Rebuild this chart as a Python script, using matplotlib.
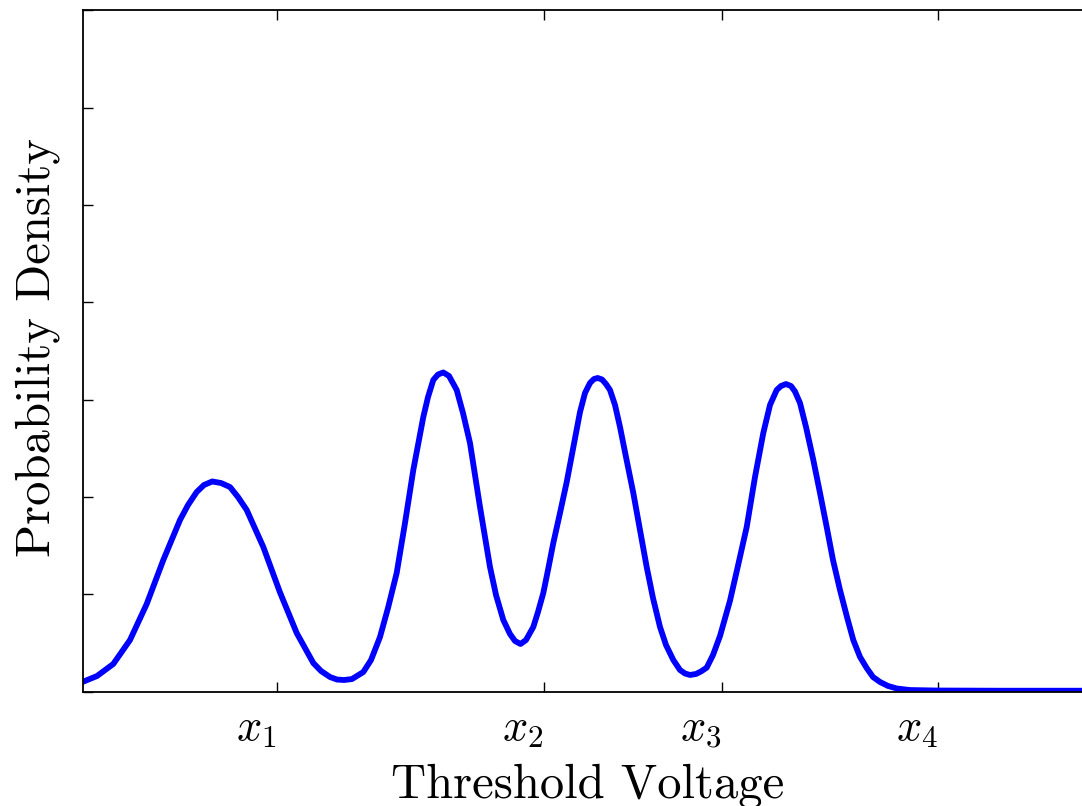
import matplotlib
matplotlib.use('Agg')
import matplotlib.pyplot as plt

# Curve (x in arbitrary voltage units 0..10, y density)
voltage = [0.000, 0.145, 0.308, 0.475, 0.642, 0.808, 0.975, 1.055, 1.142,
           1.215, 1.298, 1.385, 1.475, 1.555, 1.642, 1.808, 1.975, 2.142,
           2.308, 2.385, 2.475, 2.545, 2.615, 2.695, 2.808, 2.885, 2.975,
           3.055, 3.142, 3.225, 3.308, 3.408, 3.455, 3.508, 3.555, 3.608,
           3.665, 3.742, 3.805, 3.875, 3.925, 3.975, 4.025, 4.075, 4.135,
           4.208, 4.275, 4.325, 4.380, 4.435, 4.508, 4.555, 4.608, 4.655,
           4.708, 4.775, 4.842, 4.905, 4.975, 5.025, 5.075, 5.115, 5.152,
           5.195, 5.235, 5.275, 5.325, 5.375, 5.435, 5.508, 5.575, 5.642,
           5.705, 5.775, 5.835, 5.908, 5.975, 6.025, 6.075, 6.135, 6.185,
           6.242, 6.305, 6.375, 6.475, 6.555, 6.642, 6.725, 6.808, 6.875,
           6.942, 6.985, 7.035, 7.085, 7.125, 7.175, 7.235, 7.308, 7.375,
           7.442, 7.505, 7.575, 7.645, 7.708, 7.775, 7.842, 7.905, 7.975,
           8.055, 8.142, 8.275, 8.545, 9.175, 10.000]
density = [0.0100, 0.0161, 0.0285, 0.0531, 0.0901, 0.1353, 0.1764, 0.1918,
           0.2052, 0.2124, 0.2160, 0.2144, 0.2103, 0.2000, 0.1867, 0.1487,
           0.1020, 0.0603, 0.0295, 0.0213, 0.0151, 0.0125, 0.0120, 0.0130,
           0.0202, 0.0325, 0.0562, 0.0860, 0.1220, 0.1733, 0.2278, 0.2822,
           0.3027, 0.3203, 0.3259, 0.3280, 0.3244, 0.3100, 0.2863, 0.2555,
           0.2226, 0.1898, 0.1589, 0.1281, 0.0994, 0.0737, 0.0593, 0.0521,
           0.0490, 0.0531, 0.0665, 0.0819, 0.1014, 0.1250, 0.1528, 0.1836,
           0.2154, 0.2494, 0.2873, 0.3069, 0.3172, 0.3213, 0.3223, 0.3208,
           0.3161, 0.3100, 0.2946, 0.2720, 0.2411, 0.2042, 0.1661, 0.1281,
           0.0962, 0.0665, 0.0480, 0.0326, 0.0223, 0.0187, 0.0172, 0.0182,
           0.0208, 0.0247, 0.0377, 0.0572, 0.0935, 0.1295, 0.1692, 0.2206,
           0.2658, 0.2946, 0.3100, 0.3141, 0.3161, 0.3141, 0.3084, 0.2966,
           0.2720, 0.2381, 0.2042, 0.1692, 0.1353, 0.1045, 0.0767, 0.0531,
           0.0357, 0.0243, 0.0151, 0.0100, 0.0059, 0.0033, 0.0017, 0.0012,
           0.0010, 0.0010]

thresholds = [1.94, 4.61, 6.39, 8.55]
threshold_labels = ['$x_1$', '$x_2$', '$x_3$', '$x_4$']
y_ticks = [0.0, 0.1, 0.2, 0.3, 0.4, 0.5, 0.6, 0.7]

plt.rcParams['font.family'] = 'serif'
plt.rcParams['font.serif'] = ['cmr10']
plt.rcParams['mathtext.fontset'] = 'cm'
plt.rcParams['axes.unicode_minus'] = False

fig = plt.figure(figsize=(10.82, 8.06), dpi=100)
ax = fig.add_axes([82.5 / 1082, 1 - 691.7 / 806, 1000 / 1082, 681.3 / 806])

ax.plot(voltage, density, color='#0000ff', lw=4.2)
ax.set_xlim(0, 10)
ax.set_ylim(0, 0.7)

ax.set_xticks(thresholds)
ax.set_xticklabels(threshold_labels, fontsize=32, ha='right')
ax.set_yticks(y_ticks)
ax.set_yticklabels([])
ax.tick_params(direction='in', length=7, width=1, top=True, right=False,
               pad=13)

for s in ax.spines.values():
    s.set_linewidth(1.3)

ax.set_xlabel('Threshold Voltage', fontsize=35)
ax.xaxis.set_label_coords(0.505, -0.105)
ax.set_ylabel('Probability Density', fontsize=35)
ax.yaxis.set_label_coords(-0.0225, 0.505)

fig.savefig('out.png', dpi=100)
